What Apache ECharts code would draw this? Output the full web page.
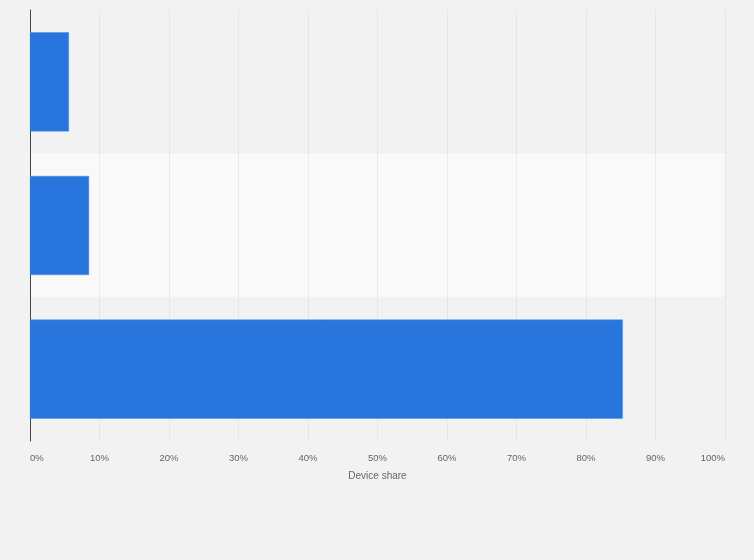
<!DOCTYPE html>
<html>
<head>
<meta charset="utf-8">
<script src="https://cdn.jsdelivr.net/npm/echarts@6/dist/echarts.min.js"></script>
<style>
  html, body { margin: 0; padding: 0; background: #f2f2f2; }
  #chart { width: 754px; height: 560px; }
</style>
</head>
<body>
<div id="chart"></div>
<script>
  // Categories are not labelled in the picture, top to bottom
  var categories = ['Tablet', 'Mobile', 'Desktop'];
  var shares = [5.6, 8.5, 85.3];
  var xTicks = { min: 0, max: 100, interval: 10 };

  var chart = echarts.init(document.getElementById('chart'));

  chart.setOption({
    backgroundColor: '#f2f2f2',
    animation: false,
    grid: { left: 30, right: 29, top: 10, bottom: 119 },
    xAxis: {
      type: 'value',
      min: xTicks.min,
      max: xTicks.max,
      interval: xTicks.interval,
      name: 'Device share',
      nameLocation: 'middle',
      nameGap: 30,
      nameTextStyle: { color: '#666', fontSize: 10, fontFamily: 'Arial, Liberation Sans, sans-serif' },
      axisLine: { show: false },
      axisTick: { show: false },
      axisLabel: {
        formatter: '{value}%',
        color: '#666',
        fontSize: 9.5,
        margin: 12,
        alignMinLabel: 'left',
        alignMaxLabel: 'right',
        fontFamily: 'Arial, Liberation Sans, sans-serif'
      },
      splitLine: { lineStyle: { color: '#dcdcdc', type: [1, 1], width: 1 } }
    },
    yAxis: {
      type: 'category',
      data: categories,
      inverse: true,
      axisLine: { show: true, lineStyle: { color: '#444', width: 1 } },
      axisTick: { show: false },
      axisLabel: { show: false },
      splitArea: { show: true, areaStyle: { color: ['#f2f2f2', '#f9f9f9'] } }
    },
    series: [{
      type: 'bar',
      data: shares,
      barWidth: '69%',
      itemStyle: { color: '#2876dd', borderColor: '#4a8de4', borderWidth: 0.5 }
    }]
  });
</script>
</body>
</html>
